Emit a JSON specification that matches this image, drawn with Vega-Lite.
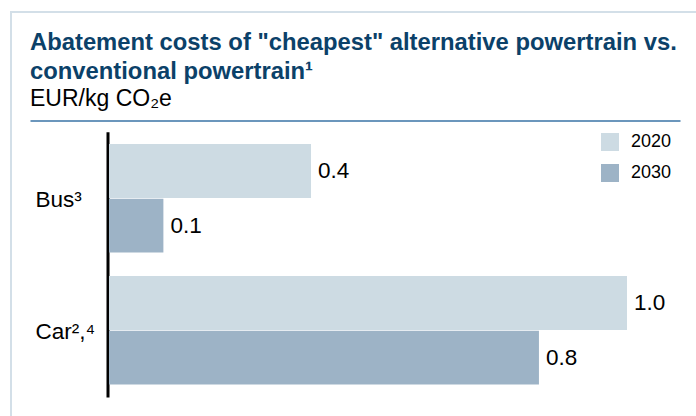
{
  "$schema": "https://vega.github.io/schema/vega-lite/v6.json",
  "width": 696,
  "height": 416,
  "autosize": {"type": "fit", "contains": "padding"},
  "padding": {"left": 11, "top": 12, "right": -4, "bottom": -4},
  "background": "white",
  "config": {
    "font": "Liberation Sans",
    "view": {"stroke": "#d3dfe8", "strokeWidth": 2}
  },
  "title": {
    "text": ["Abatement costs of \"cheapest\" alternative powertrain vs.", "conventional powertrain¹"],
    "subtitle": "EUR/kg CO₂e",
    "anchor": "start",
    "frame": "group",
    "orient": "top",
    "offset": -99,
    "dx": 19,
    "fontSize": 23.8,
    "fontWeight": "bold",
    "color": "#0b4169",
    "lineHeight": 29,
    "subtitleFontSize": 23,
    "subtitleColor": "#000000",
    "subtitlePadding": 4
  },
  "data": {
    "values": [
      {"vehicle": "Bus³", "year": "2020", "cost": 0.39},
      {"vehicle": "Bus³", "year": "2030", "cost": 0.105},
      {"vehicle": "Car²,⁴", "year": "2020", "cost": 1.0},
      {"vehicle": "Car²,⁴", "year": "2030", "cost": 0.83}
    ]
  },
  "encoding": {
    "y": {
      "field": "vehicle",
      "type": "nominal",
      "sort": ["Bus³", "Car²,⁴"],
      "scale": {"range": [119.7, 384.9], "paddingInner": 0.179, "paddingOuter": 0.094},
      "axis": {
        "title": null,
        "orient": "left",
        "offset": -96.5,
        "ticks": false,
        "tickSize": 0,
        "domainColor": "#000000",
        "domainWidth": 3,
        "labelAlign": "left",
        "labelPadding": 72.5,
        "labelOffset": 2,
        "labelFontSize": 22.5,
        "labelColor": "#000000",
        "labelFont": "Liberation Sans"
      }
    },
    "yOffset": {
      "field": "year",
      "type": "nominal",
      "sort": ["2020", "2030"],
      "scale": {"paddingInner": 0.015, "paddingOuter": 0}
    },
    "x": {
      "field": "cost",
      "type": "quantitative",
      "scale": {"domain": [-0.1525, 1.1023], "range": [19, 669], "nice": false, "zero": false},
      "axis": {
        "title": null,
        "orient": "top",
        "offset": -108.5,
        "grid": false,
        "ticks": false,
        "labels": false,
        "domainColor": "#3a73a6",
        "domainWidth": 1.5
      }
    }
  },
  "layer": [
    {
      "mark": {"type": "bar"},
      "encoding": {
        "color": {
          "field": "year",
          "type": "nominal",
          "scale": {"domain": ["2020", "2030"], "range": ["#cddbe3", "#9db3c6"]},
          "legend": {
            "title": null,
            "orient": "none",
            "legendX": 590,
            "legendY": 121,
            "symbolType": "square",
            "symbolSize": 324,
            "symbolStrokeWidth": 0,
            "labelFontSize": 18,
            "labelColor": "#000000",
            "labelOffset": 12,
            "rowPadding": 13
          }
        }
      }
    },
    {
      "mark": {"type": "text", "align": "left", "baseline": "middle", "dx": 7, "fontSize": 22.5, "color": "#000000"},
      "encoding": {
        "text": {"field": "cost", "type": "quantitative", "format": ".1f"}
      }
    }
  ]
}
